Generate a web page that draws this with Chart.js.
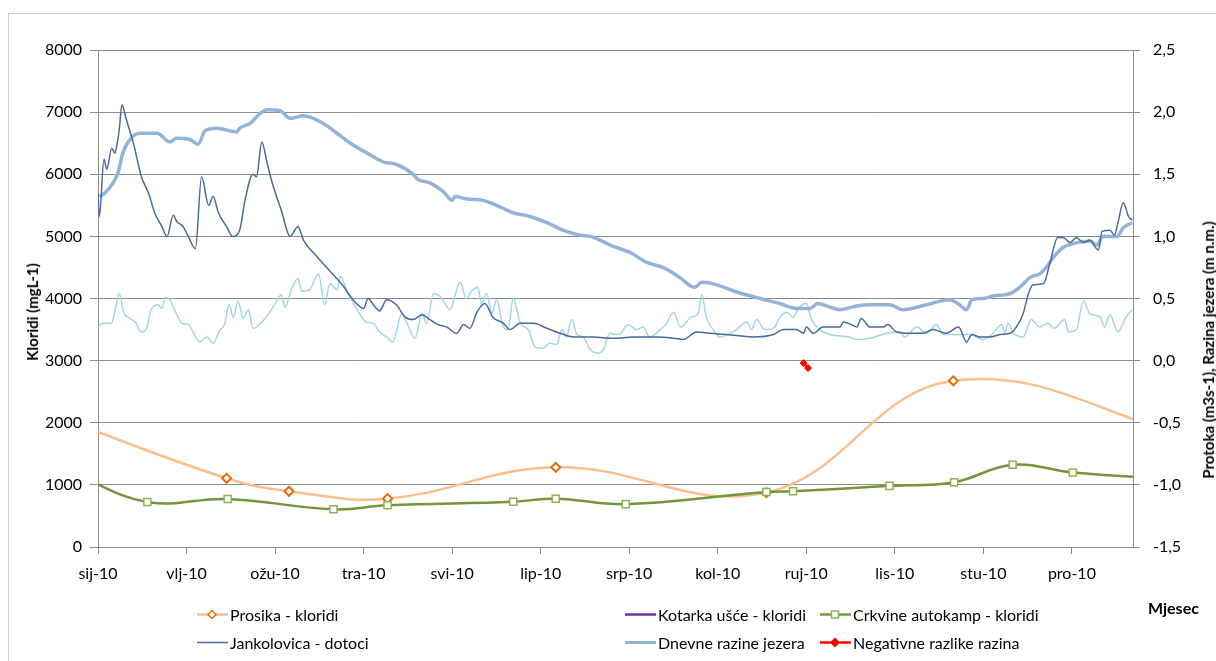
<!DOCTYPE html>
<html>
<head>
<meta charset="utf-8">
<script src="https://cdn.jsdelivr.net/npm/chart.js@4.4.0/dist/chart.umd.min.js"></script>
<style>
  body { margin: 0; background: #fff; }
  #wrap { position: relative; width: 1216px; height: 661px; overflow: hidden; font-family: Lato, "Open Sans", sans-serif; color: #000; }
  #frame { position: absolute; left: 8px; top: 13px; width: 1300px; height: 700px; border-left: 1px solid #c9ced6; border-top: 1px solid #c9ced6; }
  canvas { position: absolute; left: 0; top: 0; }
  .ytitle { position: absolute; font-weight: bold; font-size: 15px; white-space: nowrap; transform: translate(-50%, -50%) rotate(-90deg); }
  .leg { position: absolute; height: 20px; font-size: 16px; display: flex; align-items: center; white-space: nowrap; }
  .leg svg { margin-right: 2px; }
</style>
</head>
<body>
<div id="wrap">
  <div id="frame"></div>
  <canvas id="chart" width="1216" height="661"></canvas>
  <div class="ytitle" style="left:32px; top:312px;">Kloridi (mgL-1)</div>
  <div class="ytitle" style="left:1208px; top:350px;">Protoka (m3s-1), Razina jezera (m n.m.)</div>
  <div style="position:absolute; left:1148px; top:598px; font-weight:bold; font-size:16px;">Mjesec</div>
  <div id="legend"></div>
</div>
<script>
// x axis: months of 2010, one unit per month starting at sij-10
const monthLabels = ["sij-10", "vlj-10", "ožu-10", "tra-10", "svi-10", "lip-10",
                     "srp-10", "kol-10", "ruj-10", "lis-10", "stu-10", "pro-10"];
const xMax = 11.69;

// chlorides (mgL-1), left axis
const prosikaMonth = [-0.45, 1.453, 2.157, 3.27, 5.17, 7.55, 9.66, 12.4];
const prosikaCl    = [2090, 1106, 897, 778, 1283, 876, 2675, 1750];

const crkvineMonth = [-0.3, 0.557, 1.465, 2.66, 3.27, 4.69, 5.17, 5.96, 7.55, 7.85, 8.94, 9.67, 10.33, 11.01, 12.3];
const crkvineCl    = [1200, 725, 773, 607, 671, 729, 778, 690, 886, 897, 984, 1043, 1324, 1200, 1080];

const kotarkaMonth = [];
const kotarkaCl    = [];

// daily flows / lake level, right axis  [month, value]
const jankolovicaFlow = [
  [0.00,1.35],[0.015,1.16],[0.068,1.62],[0.10,1.54],[0.155,1.71],[0.19,1.67],[0.21,1.72],[0.24,1.86],[0.27,2.06],
  [0.32,1.94],[0.40,1.75],[0.49,1.48],[0.57,1.35],[0.64,1.19],[0.72,1.08],[0.78,1.00],[0.85,1.17],[0.89,1.12],
  [0.96,1.08],[1.02,1.00],[1.10,0.90],[1.17,1.48],[1.25,1.25],[1.30,1.32],[1.36,1.19],[1.45,1.08],[1.52,1.00],
  [1.60,1.05],[1.66,1.29],[1.75,1.50],[1.79,1.48],[1.85,1.76],[1.91,1.59],[1.96,1.45],[2.07,1.21],[2.17,1.00],
  [2.26,1.08],[2.32,0.97],[2.47,0.84],[2.62,0.72],[2.77,0.60],[2.88,0.49],[3.00,0.42],[3.05,0.50],[3.11,0.45],
  [3.18,0.40],[3.26,0.49],[3.37,0.45],[3.47,0.35],[3.56,0.33],[3.66,0.37],[3.75,0.33],[3.84,0.29],[3.94,0.27],
  [4.05,0.22],[4.13,0.29],[4.20,0.26],[4.28,0.39],[4.37,0.46],[4.46,0.35],[4.58,0.30],[4.65,0.25],[4.77,0.30],
  [4.92,0.30],[5.07,0.26],[5.22,0.22],[5.37,0.19],[5.59,0.19],[5.82,0.18],[6.05,0.19],[6.31,0.19],[6.50,0.18],
  [6.61,0.17],[6.76,0.23],[6.91,0.22],[7.10,0.21],[7.40,0.19],[7.63,0.21],[7.74,0.25],[7.89,0.25],[7.97,0.22],
  [8.00,0.27],[8.08,0.22],[8.19,0.27],[8.38,0.27],[8.42,0.31],[8.51,0.29],[8.57,0.27],[8.62,0.34],[8.72,0.27],
  [8.87,0.27],[8.92,0.29],[9.02,0.23],[9.17,0.22],[9.32,0.22],[9.43,0.25],[9.58,0.22],[9.72,0.27],[9.81,0.15],
  [9.87,0.21],[9.96,0.19],[10.07,0.19],[10.19,0.21],[10.30,0.22],[10.39,0.29],[10.45,0.38],[10.51,0.54],[10.56,0.61],
  [10.68,0.62],[10.75,0.78],[10.84,0.99],[10.90,0.99],[10.98,0.95],[11.05,0.99],[11.13,0.95],[11.20,0.97],[11.30,0.89],
  [11.34,1.04],[11.43,1.05],[11.48,1.01],[11.52,1.11],[11.58,1.27],[11.64,1.16],[11.68,1.13]
];

const lakeLevel = [
  [0.015,1.32],[0.08,1.35],[0.17,1.43],[0.23,1.52],[0.28,1.67],[0.34,1.76],[0.42,1.82],[0.47,1.83],[0.67,1.83],
  [0.81,1.76],[0.89,1.79],[1.04,1.78],[1.13,1.74],[1.21,1.85],[1.34,1.87],[1.57,1.84],[1.60,1.87],[1.72,1.91],
  [1.83,1.99],[1.91,2.02],[2.06,2.01],[2.17,1.95],[2.32,1.97],[2.54,1.91],[2.70,1.83],[2.85,1.75],[3.04,1.67],
  [3.22,1.60],[3.37,1.58],[3.56,1.50],[3.61,1.46],[3.75,1.43],[3.90,1.36],[4.00,1.29],[4.03,1.32],[4.17,1.30],
  [4.35,1.29],[4.50,1.25],[4.69,1.19],[4.88,1.16],[5.07,1.11],[5.25,1.05],[5.44,1.01],[5.56,1.00],[5.82,0.92],
  [6.01,0.87],[6.20,0.79],[6.38,0.75],[6.57,0.67],[6.74,0.59],[6.82,0.63],[6.94,0.62],[7.22,0.55],[7.48,0.50],
  [7.70,0.46],[7.89,0.42],[8.04,0.42],[8.13,0.46],[8.27,0.43],[8.38,0.41],[8.57,0.44],[8.72,0.45],[8.94,0.45],
  [9.09,0.41],[9.36,0.45],[9.62,0.49],[9.73,0.45],[9.81,0.41],[9.87,0.49],[10.00,0.50],[10.11,0.52],[10.30,0.54],
  [10.41,0.59],[10.53,0.67],[10.64,0.70],[10.71,0.75],[10.79,0.83],[10.90,0.91],[11.06,0.95],[11.21,0.96],[11.28,0.93],
  [11.35,1.00],[11.51,1.00],[11.58,1.07],[11.68,1.11]
];

// light cyan daily series without a legend entry
const cyanSeries = [
  [0.00,0.27],[0.06,0.30],[0.15,0.30],[0.19,0.39],[0.24,0.54],[0.29,0.39],[0.36,0.34],[0.42,0.31],[0.49,0.23],
  [0.55,0.26],[0.59,0.39],[0.68,0.45],[0.72,0.42],[0.76,0.51],[0.81,0.49],[0.89,0.37],[0.95,0.30],[1.02,0.29],
  [1.15,0.15],[1.23,0.19],[1.30,0.14],[1.38,0.25],[1.43,0.29],[1.48,0.45],[1.53,0.35],[1.58,0.48],[1.64,0.34],
  [1.70,0.41],[1.75,0.26],[1.85,0.31],[1.94,0.39],[2.02,0.48],[2.07,0.53],[2.11,0.43],[2.19,0.58],[2.26,0.66],
  [2.30,0.56],[2.39,0.57],[2.49,0.70],[2.56,0.45],[2.62,0.62],[2.70,0.57],[2.74,0.68],[2.81,0.56],[2.92,0.42],
  [3.03,0.31],[3.11,0.30],[3.18,0.23],[3.26,0.19],[3.33,0.15],[3.43,0.38],[3.49,0.30],[3.58,0.18],[3.66,0.38],
  [3.71,0.30],[3.79,0.54],[3.86,0.52],[3.98,0.41],[4.03,0.52],[4.09,0.63],[4.16,0.50],[4.22,0.56],[4.29,0.59],
  [4.33,0.46],[4.39,0.54],[4.45,0.38],[4.50,0.49],[4.58,0.27],[4.63,0.25],[4.69,0.50],[4.77,0.30],[4.86,0.25],
  [4.94,0.11],[5.03,0.10],[5.10,0.14],[5.18,0.13],[5.24,0.25],[5.29,0.19],[5.35,0.33],[5.41,0.21],[5.48,0.19],
  [5.56,0.09],[5.65,0.06],[5.71,0.09],[5.78,0.22],[5.88,0.21],[5.99,0.29],[6.08,0.25],[6.16,0.27],[6.23,0.19],
  [6.35,0.25],[6.42,0.30],[6.50,0.39],[6.58,0.27],[6.70,0.35],[6.78,0.38],[6.82,0.53],[6.87,0.35],[6.95,0.25],
  [7.02,0.19],[7.14,0.22],[7.21,0.25],[7.33,0.31],[7.38,0.25],[7.44,0.33],[7.53,0.25],[7.63,0.26],[7.70,0.35],
  [7.78,0.39],[7.85,0.35],[7.92,0.43],[8.00,0.46],[8.06,0.33],[8.15,0.25],[8.27,0.21],[8.49,0.19],[8.57,0.17],
  [8.72,0.18],[8.91,0.22],[9.06,0.23],[9.11,0.19],[9.25,0.27],[9.36,0.22],[9.47,0.29],[9.55,0.21],[9.70,0.21],
  [9.85,0.21],[10.00,0.17],[10.11,0.22],[10.21,0.29],[10.24,0.22],[10.28,0.30],[10.34,0.22],[10.45,0.19],[10.54,0.33],
  [10.64,0.27],[10.73,0.30],[10.80,0.26],[10.92,0.33],[10.96,0.23],[11.05,0.25],[11.13,0.48],[11.20,0.38],[11.32,0.35],
  [11.37,0.27],[11.43,0.37],[11.52,0.23],[11.61,0.35],[11.68,0.41]
];

const negativeMonth = [7.97, 8.02];
const negativeDiff  = [-0.02, -0.06];

const legendItems = [
  { label: "Prosika - kloridi",           color: "#f9bf8f", width: 2.5, marker: "diamond", markerColor: "#e46c0a", fill: "#fff", col: 0, row: 0 },
  { label: "Kotarka ušće - kloridi",      color: "#7030a0", width: 2.5, marker: null,      col: 1, row: 0 },
  { label: "Crkvine autokamp - kloridi",  color: "#77933c", width: 2.5, marker: "square",  markerColor: "#8db255", fill: "#fff", col: 2, row: 0 },
  { label: "Jankolovica - dotoci",        color: "#4a6a9c", width: 1.5, marker: null,      col: 0, row: 1 },
  { label: "Dnevne razine jezera",        color: "#95b3d7", width: 3,   marker: null,      col: 1, row: 1 },
  { label: "Negativne razlike razina",    color: "#ff0000", width: 2.5, marker: "diamond", markerColor: "#ff0000", fill: "#ff0000", col: 2, row: 1 }
];
const legendCols = [197, 625, 820];
const legendRows = [614, 642];

function pairs(xs, ys) {
  return xs.map((x, i) => ({ x: x, y: ys[i] }));
}
function fromPairs(arr) {
  return arr.map(p => ({ x: p[0], y: p[1] }));
}

function buildLegend() {
  const box = document.getElementById("legend");
  legendItems.forEach(it => {
    const d = document.createElement("div");
    d.className = "leg";
    d.style.left = legendCols[it.col] + "px";
    d.style.top = (legendRows[it.row] - 10) + "px";
    let mk = "";
    if (it.marker === "diamond") {
      mk = `<path d="M15 1.5 L19 5.5 L15 9.5 L11 5.5 Z" fill="${it.fill}" stroke="${it.markerColor}" stroke-width="1.5"/>`;
    } else if (it.marker === "square") {
      mk = `<rect x="11.5" y="2" width="7" height="7" fill="${it.fill}" stroke="${it.markerColor}" stroke-width="1.5"/>`;
    }
    d.innerHTML = `<svg width="31" height="11"><line x1="0" y1="5.5" x2="31" y2="5.5" stroke="${it.color}" stroke-width="${it.width}"/>${mk}</svg><span>${it.label}</span>`;
    box.appendChild(d);
  });
}
buildLegend();

const tickFont = { family: "Lato", size: 16 };
const gridColor = "#8d8d8d";

const ctx = document.getElementById("chart").getContext("2d");
const chart = new Chart(ctx, {
  type: "line",
  data: {
    datasets: [
      {
        label: "Negativne razlike razina",
        data: pairs(negativeMonth, negativeDiff),
        yAxisID: "y1",
        borderColor: "#ff0000", backgroundColor: "#ff0000",
        borderWidth: 2.5, pointStyle: "rectRot", pointRadius: 3.5, pointBorderWidth: 1,
        order: 0
      },
      {
        label: "Crkvine autokamp - kloridi",
        data: pairs(crkvineMonth, crkvineCl),
        yAxisID: "y",
        borderColor: "#77933c", backgroundColor: "#ffffff",
        pointBorderColor: "#8db255",
        borderWidth: 2.5, pointStyle: "rect", pointRadius: 5, pointBorderWidth: 1.5,
        tension: 0.4,
        order: 1
      },
      {
        label: "Prosika - kloridi",
        data: pairs(prosikaMonth, prosikaCl),
        yAxisID: "y",
        borderColor: "#f9bf8f", backgroundColor: "#ffffff",
        pointBorderColor: "#e46c0a",
        borderWidth: 2.5, pointStyle: "rectRot", pointRadius: 4.5, pointBorderWidth: 2,
        tension: 0.4,
        order: 2
      },
      {
        label: "Kotarka ušće - kloridi",
        data: pairs(kotarkaMonth, kotarkaCl),
        yAxisID: "y",
        borderColor: "#7030a0",
        borderWidth: 2.5, pointRadius: 0,
        order: 3
      },
      {
        label: "Jankolovica - dotoci",
        data: fromPairs(jankolovicaFlow),
        yAxisID: "y1",
        borderColor: "#4a6a9c",
        borderWidth: 1.5, pointRadius: 0,
        cubicInterpolationMode: "monotone",
        order: 4
      },
      {
        label: "Dnevne razine jezera",
        data: fromPairs(lakeLevel),
        yAxisID: "y1",
        borderColor: "#95b3d7",
        borderWidth: 3.5, pointRadius: 0,
        cubicInterpolationMode: "monotone",
        order: 5
      },
      {
        label: "",
        data: fromPairs(cyanSeries),
        yAxisID: "y1",
        borderColor: "#a3d5e4",
        borderWidth: 1.5, pointRadius: 0,
        cubicInterpolationMode: "monotone",
        order: 6
      }
    ]
  },
  options: {
    responsive: false,
    animation: false,
    layout: { padding: { top: 50, left: 0, right: 0, bottom: 0 } },
    plugins: { legend: { display: false }, tooltip: { enabled: false } },
    scales: {
      x: {
        type: "linear", min: 0, max: xMax,
        afterBuildTicks: s => { s.ticks = monthLabels.map((m, i) => ({ value: i })); },
        afterFit: s => { s.height = 114; },
        grid: { drawOnChartArea: false, tickLength: 7, color: gridColor },
        border: { color: gridColor },
        ticks: { callback: v => monthLabels[v], padding: 10, font: tickFont, color: "#000", maxRotation: 0, autoSkip: false }
      },
      y: {
        position: "left", min: 0, max: 8000,
        afterFit: s => { s.width = 98; },
        grid: { color: gridColor, tickLength: 8 },
        border: { color: gridColor },
        ticks: { stepSize: 1000, padding: 8, font: tickFont, color: "#000", callback: v => String(v) }
      },
      y1: {
        position: "right", min: -1.5, max: 2.5,
        afterFit: s => { s.width = 83; },
        grid: { drawOnChartArea: false, tickLength: 7, color: gridColor },
        border: { color: gridColor },
        ticks: { stepSize: 0.5, padding: 13, font: tickFont, color: "#000",
                 callback: v => v.toFixed(1).replace(".", ",") }
      }
    }
  }
});
</script>
</body>
</html>
